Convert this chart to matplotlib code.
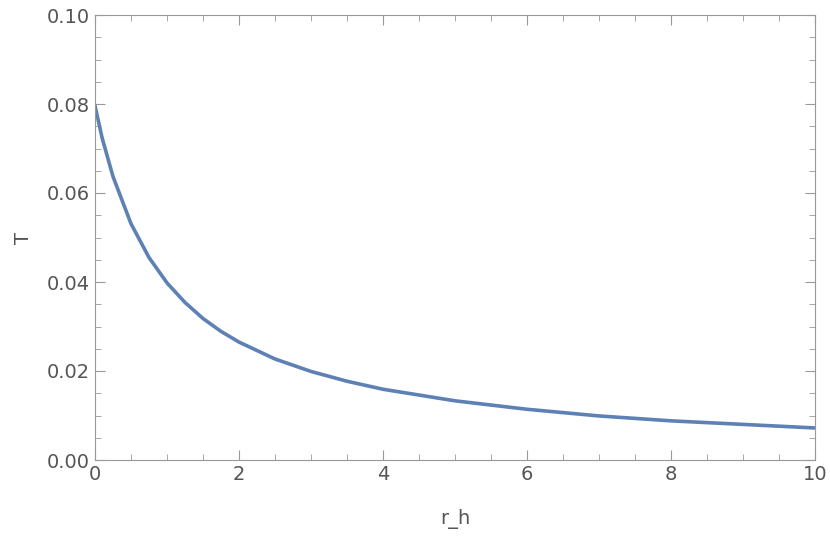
import matplotlib
matplotlib.use("Agg")
import matplotlib.pyplot as plt
from matplotlib.ticker import MultipleLocator, FormatStrFormatter

r_h = [0, 0.1, 0.25, 0.5, 0.75, 1, 1.25, 1.5, 1.75, 2, 2.5, 3, 3.5, 4, 5, 6, 7, 8, 9, 10]
T = [0.0796, 0.0723, 0.0637, 0.0531, 0.0455, 0.0398, 0.0354, 0.0318, 0.0289, 0.0265,
     0.0227, 0.0199, 0.0177, 0.0159, 0.0133, 0.0114, 0.0099, 0.0088, 0.0080, 0.0072]

fig = plt.figure(figsize=(8.3, 5.45), dpi=100)
ax = fig.add_axes([95/830, 1-460/545, 720/830, 445/545])
ax.plot(r_h, T, color="#5E81B5", lw=2.6)
ax.set_xlim(0, 10)
ax.set_ylim(0, 0.10)
ax.xaxis.set_major_locator(MultipleLocator(2))
ax.xaxis.set_minor_locator(MultipleLocator(0.5))
ax.yaxis.set_major_locator(MultipleLocator(0.02))
ax.yaxis.set_minor_locator(MultipleLocator(0.005))
ax.yaxis.set_major_formatter(FormatStrFormatter("%.2f"))
gray = "#555555"
for s in ax.spines.values():
    s.set_color("#999999")
ax.tick_params(which="both", direction="in", top=True, right=True, colors="#999999",
               labelcolor=gray, labelsize=14)
ax.tick_params(which="major", length=7)
ax.tick_params(which="minor", length=4)
ax.set_xlabel("r_h", fontsize=14, color=gray, labelpad=18)
ax.set_ylabel("T", fontsize=14, color=gray, labelpad=10)
fig.savefig("out.png", dpi=100)
